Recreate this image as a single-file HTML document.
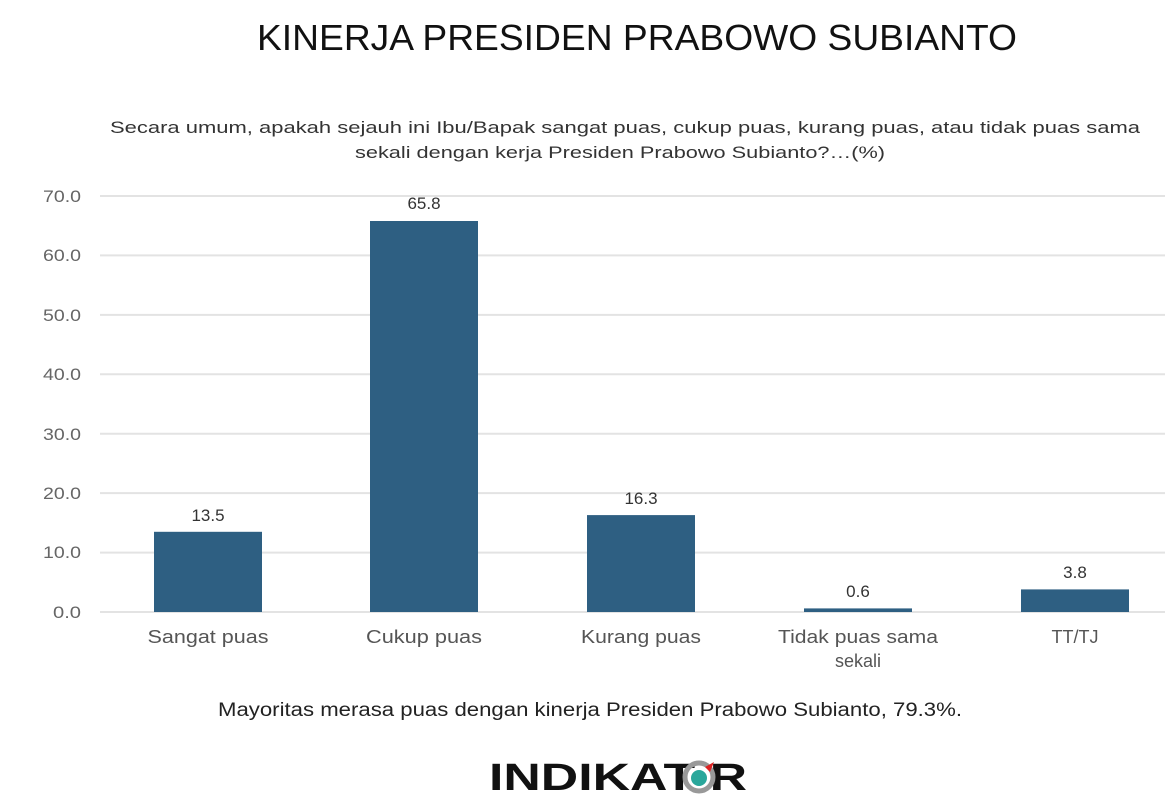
<!DOCTYPE html>
<html><head><style>
body{margin:0;background:#fff;}
svg{display:block;font-family:"Liberation Sans",sans-serif;}
</style></head><body>
<svg width="1165" height="794" viewBox="0 0 1165 794">
<text x="637" y="50" font-size="36" text-anchor="middle" fill="#111" textLength="760" lengthAdjust="spacingAndGlyphs">KINERJA PRESIDEN PRABOWO SUBIANTO</text>
<text x="625" y="133" font-size="17" text-anchor="middle" fill="#333" textLength="1030" lengthAdjust="spacingAndGlyphs">Secara umum, apakah sejauh ini Ibu/Bapak sangat puas, cukup puas, kurang puas, atau tidak puas sama</text>
<text x="620" y="158" font-size="17" text-anchor="middle" fill="#333" textLength="530" lengthAdjust="spacingAndGlyphs">sekali dengan kerja Presiden Prabowo Subianto?…(%)</text>
<g stroke="#e3e3e3" stroke-width="2">
<line x1="100" x2="1165" y1="196" y2="196"/><line x1="100" x2="1165" y1="255.4" y2="255.4"/>
<line x1="100" x2="1165" y1="314.9" y2="314.9"/><line x1="100" x2="1165" y1="374.3" y2="374.3"/>
<line x1="100" x2="1165" y1="433.7" y2="433.7"/><line x1="100" x2="1165" y1="493.1" y2="493.1"/>
<line x1="100" x2="1165" y1="552.6" y2="552.6"/><line x1="100" x2="1165" y1="612" y2="612"/>
</g>
<g font-size="17" fill="#666" text-anchor="end">
<text x="81" y="202" textLength="38" lengthAdjust="spacingAndGlyphs">70.0</text><text x="81" y="261" textLength="38" lengthAdjust="spacingAndGlyphs">60.0</text><text x="81" y="321" textLength="38" lengthAdjust="spacingAndGlyphs">50.0</text>
<text x="81" y="380" textLength="38" lengthAdjust="spacingAndGlyphs">40.0</text><text x="81" y="440" textLength="38" lengthAdjust="spacingAndGlyphs">30.0</text><text x="81" y="499" textLength="38" lengthAdjust="spacingAndGlyphs">20.0</text>
<text x="81" y="558" textLength="38" lengthAdjust="spacingAndGlyphs">10.0</text><text x="81" y="618" textLength="28" lengthAdjust="spacingAndGlyphs">0.0</text>
</g>
<g fill="#2e5f82">
<rect x="154" y="531.8" width="108" height="80.2"/>
<rect x="370" y="221" width="108" height="391"/>
<rect x="587" y="515.1" width="108" height="96.9"/>
<rect x="804" y="608.4" width="108" height="3.6"/>
<rect x="1021" y="589.4" width="108" height="22.6"/>
</g>
<g font-size="17" fill="#333" text-anchor="middle">
<text x="208" y="521">13.5</text><text x="424" y="209">65.8</text><text x="641" y="504">16.3</text>
<text x="858" y="597">0.6</text><text x="1075" y="578">3.8</text>
</g>
<g font-size="18" fill="#555" text-anchor="middle">
<text x="208" y="643" textLength="121" lengthAdjust="spacingAndGlyphs">Sangat puas</text><text x="424" y="643" textLength="116" lengthAdjust="spacingAndGlyphs">Cukup puas</text><text x="641" y="643" textLength="120" lengthAdjust="spacingAndGlyphs">Kurang puas</text>
<text x="858" y="643" textLength="160" lengthAdjust="spacingAndGlyphs">Tidak puas sama</text><text x="858" y="667">sekali</text><text x="1075" y="643">TT/TJ</text>
</g>
<text x="590" y="716" font-size="19" text-anchor="middle" fill="#222" textLength="744" lengthAdjust="spacingAndGlyphs">Mayoritas merasa puas dengan kinerja Presiden Prabowo Subianto, 79.3%.</text>
<text x="489" y="790" font-size="38" font-weight="bold" fill="#111" textLength="258" lengthAdjust="spacingAndGlyphs">INDIKAT  R</text>
<circle cx="699" cy="777" r="14" fill="none" stroke="#999" stroke-width="5"/>
<circle cx="699" cy="778" r="8" fill="#2aa79b"/>
<polygon points="705,767 714,762 710,772" fill="#d22"/>
</svg>
</body></html>
